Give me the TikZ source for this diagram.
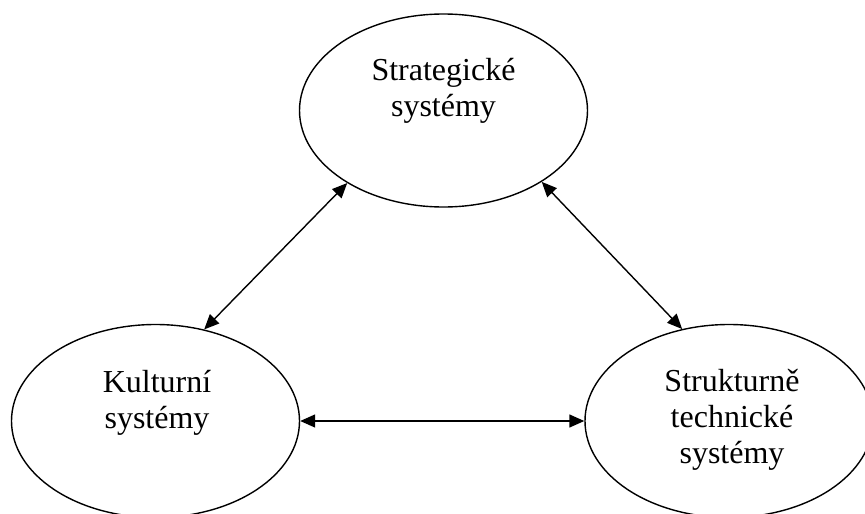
\documentclass[tikz,border=0pt]{standalone}
\usepackage{fontspec}
\setmainfont{Liberation Serif}
\usetikzlibrary{arrows.meta,shapes.geometric}
\begin{document}
\begin{tikzpicture}
  [x=1pt,y=-1pt,line width=1.4pt,
   sys/.style={ellipse,draw,minimum width=288pt,minimum height=193pt,inner sep=0pt},
   lbl/.style={align=center,anchor=base,inner sep=0pt,font=\fontsize{32}{36}\selectfont},
   link/.style={{Triangle[length=15pt,width=13pt]}-{Triangle[length=15pt,width=13pt]}}]
  \useasboundingbox (0,0) rectangle (865,514);
  \node (strat)[sys] at (443.5,110.5) {};
  \node (kult)[sys] at (155.5,421) {};
  \node (strukt)[sys] at (729,421) {};
  \node (stratT)[lbl] at (443.5,116) {Strategické\\systémy};
  \node (kultT)[lbl] at (157,428) {Kulturní\\systémy};
  \node (struktT)[lbl] at (732,463) {Strukturně\\technické\\systémy};
 \foreach \from/\to in {strat.-143.5/kult.62.7,strat.-36.4/strukt.117.5,kult.east/strukt.west}
    \draw[link] (\from) -- (\to);
\end{tikzpicture}
\end{document}
